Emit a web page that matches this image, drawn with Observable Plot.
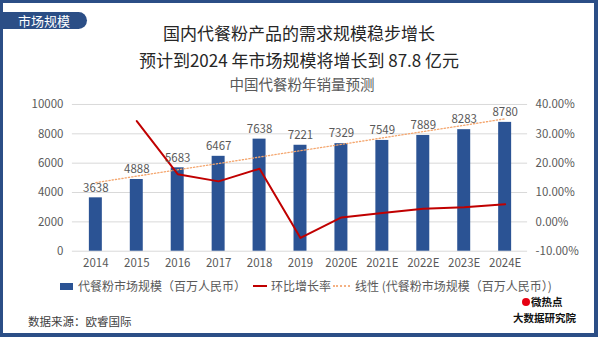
<!DOCTYPE html>
<html><head><meta charset="utf-8">
<script src="https://cdn.jsdelivr.net/npm/d3@7"></script>
<script src="https://cdn.jsdelivr.net/npm/@observablehq/plot@0.6"></script>
<style>
  html,body{margin:0;padding:0;background:#fff;}
  #frame{position:relative;width:598px;height:337px;box-sizing:border-box;border:3px solid #2b4e86;border-right:4px solid #2b4e86;border-bottom:4px solid #2b4e86;background:#fff;overflow:hidden;font-family:"Noto Sans CJK SC","Noto Sans",sans-serif;}
  .abs{position:absolute;white-space:nowrap;line-height:1;}
  #tab{left:0;top:9px;width:84px;height:17px;background:#2b4e86;border-radius:0 9px 9px 0;}
  #tab span{position:absolute;left:15px;top:1px;color:#fff;font-size:13px;line-height:15px;}
  .title{left:0;width:592px;text-align:center;color:#262626;font-size:17px;}
  #chart{position:absolute;left:0;top:87px;}
  .leg{font-size:12px;color:#595959;top:277px;line-height:12px;}
</style>
</head><body>
<div id="frame">
  <div id="tab" class="abs"><span>市场规模</span></div>
  <div class="abs title" style="top:21px;">国内代餐粉产品的需求规模稳步增长</div>
  <div class="abs title" style="top:48px;">预计到2024 年市场规模将增长到 87.8 亿元</div>
  <div class="abs title" style="top:74px;font-size:14.5px;color:#595959;left:3px;">中国代餐粉年销量预测</div>
  <div id="chart"></div>
  <div class="abs" style="left:57px;top:280px;width:13px;height:7px;background:#2b5394;"></div>
  <div class="abs leg" style="left:75px;">代餐粉市场规模（百万人民币）</div>
  <div class="abs" style="left:250px;top:282px;width:14px;height:2px;background:#c00000;"></div>
  <div class="abs leg" style="left:268px;">环比增长率</div>
  <div class="abs" style="left:330px;top:282px;width:17px;height:0;border-top:2px dotted #f4b183;"></div>
  <div class="abs leg" style="left:352px;">线性 (代餐粉市场规模（百万人民币）)</div>
  <div class="abs" style="left:25px;top:313px;font-size:11.5px;color:#404040;">数据来源：欧睿国际</div>
  <div class="abs" style="left:519px;top:295px;width:8px;height:8px;border-radius:50%;background:#e60012;"></div>
  <div class="abs" style="left:528px;top:294px;font-size:10.5px;font-weight:bold;color:#111;">微热点</div>
  <div class="abs" style="left:510px;top:310px;font-size:10.5px;font-weight:bold;color:#111;">大数据研究院</div>
</div>
<script>
const years = ["2014","2015","2016","2017","2018","2019","2020E","2021E","2022E","2023E","2024E"];
const marketSize = [3638,4888,5683,6467,7638,7221,7329,7549,7889,8283,8780];
const growthRate = [null,34.36,16.26,13.80,18.11,-5.46,1.50,3.00,4.50,4.99,6.00]; // percent
const trendYears = ["2014","2024E"];
const trendValues = [4680,9022];
const leftTicks = [0,2000,4000,6000,8000,10000];
const rightTicks = [-10,0,10,20,30,40];

// secondary axis mapping: -10%..40% onto 0..10000
const toLeft = g => (g + 10) * 200;
const fromLeft = v => v / 200 - 10;

const rows = years.map((year,i)=>({year, size: marketSize[i], growth: growthRate[i]}));
const growthRows = rows.filter(d => d.growth != null);
const trendRows = trendYears.map((year,i)=>({year, v: trendValues[i]}));

const chart = Plot.plot({
  width: 592, height: 190,
  marginTop: 14, marginBottom: 29, marginLeft: 69, marginRight: 67,
  style: {background: "transparent", fontFamily: "'Noto Sans CJK SC','Noto Sans',sans-serif"},
  x: {domain: years, paddingInner: 0.69, paddingOuter: 0.345, axis: null},
  y: {domain: [0, 10000], axis: null},
  marks: [
    Plot.gridY(leftTicks, {stroke: "#d9d9d9", strokeOpacity: 1}),
    Plot.barY(rows, {x: "year", y: "size", fill: "#2b5394"}),
    Plot.line(trendRows, {x: "year", y: "v", stroke: "#f4a66e", strokeWidth: 1.3, strokeDasharray: "1.3,2"}),
    Plot.line(growthRows, {x: "year", y: d => toLeft(d.growth), stroke: "#c00000", strokeWidth: 2}),
    Plot.text(rows, {x: "year", y: "size", text: d => String(d.size), dy: -10, fill: "#595959", fontSize: 11.5}),
    Plot.axisY(leftTicks, {anchor: "left", tickSize: 0, tickPadding: 9, fontSize: 11.5, color: "#595959", tickFormat: d => String(d), label: null}),
    Plot.axisY(rightTicks.map(toLeft), {anchor: "right", tickSize: 0, tickPadding: 8, fontSize: 11.5, color: "#595959", tickFormat: v => fromLeft(v).toFixed(2) + "%", label: null}),
    Plot.axisX({tickSize: 0, tickPadding: 8, fontSize: 11.5, color: "#595959", label: null})
  ]
});
document.getElementById("chart").appendChild(chart);
</script>
</body></html>
